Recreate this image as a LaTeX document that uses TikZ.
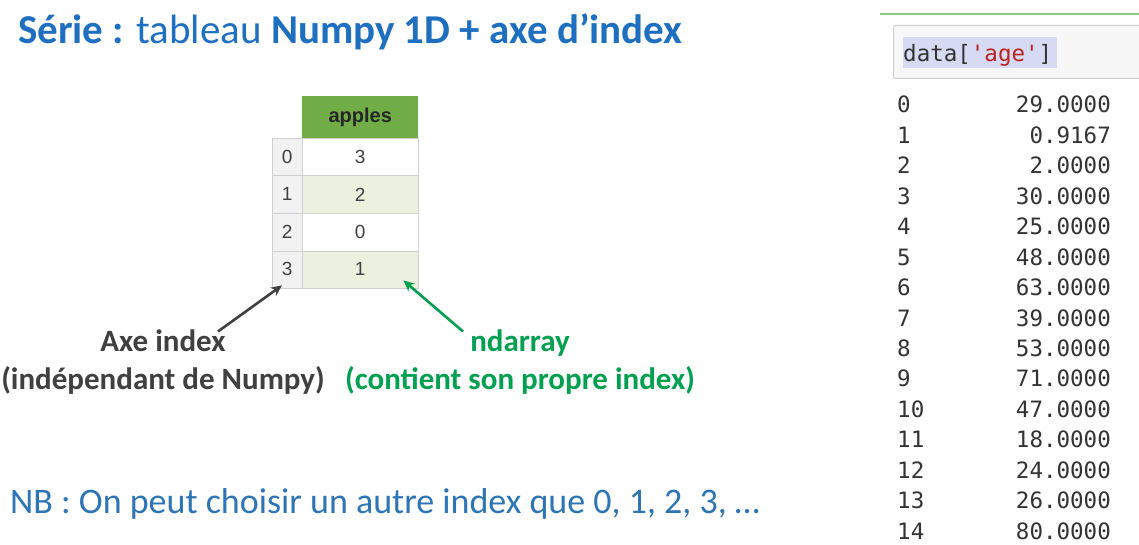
\documentclass[tikz,border=0pt]{standalone}
\usepackage{fontspec}
\setmainfont{Carlito}
\newfontfamily\tabfont{Liberation Sans}
\newfontfamily\codefont{DejaVu Sans Mono}
\usetikzlibrary{arrows.meta}

\definecolor{titleblue}{HTML}{1F6FC0}
\definecolor{nbblue}{HTML}{2E75B6}
\definecolor{darkgray}{HTML}{404040}
\definecolor{ndgreen}{HTML}{00A050}
\definecolor{headgreen}{HTML}{70AD47}
\definecolor{rowgreen}{HTML}{EBF1DE}
\definecolor{idxgray}{HTML}{F2F2F2}
\definecolor{gridgray}{HTML}{D0D0D0}
\definecolor{cellbg}{HTML}{F7F7F7}
\definecolor{cellborder}{HTML}{CFCFCF}
\definecolor{selblue}{HTML}{D6DAF2}
\definecolor{strred}{HTML}{BA2121}
\definecolor{linegreen}{HTML}{8CC98C}
\definecolor{codeink}{HTML}{333333}

\begin{document}
\begin{tikzpicture}[x=1pt,y=-1pt,
  idxcell/.style={draw=gridgray,fill=idxgray,minimum width=30pt,minimum height=37.5pt,
    inner sep=0pt,font=\tabfont\fontsize{19}{19}\selectfont,text=darkgray,anchor=north west},
  valcell/.style={draw=gridgray,minimum width=116pt,minimum height=37.5pt,
    inner sep=0pt,font=\tabfont\fontsize{19}{19}\selectfont,text=darkgray,anchor=north west},
  headcell/.style={fill=headgreen,minimum width=116pt,minimum height=42pt,inner sep=0pt,
    font=\tabfont\bfseries\fontsize{20}{20}\selectfont,text=black!85,anchor=north west},
  lbl/.style={font=\bfseries\fontsize{31}{38}\selectfont,align=center,inner sep=0pt},
  arr/.style={line width=2.6pt,-{Stealth[length=11pt,width=10pt]}},
  outidx/.style={font=\codefont\fontsize{22.5}{22.5}\selectfont,text=codeink,anchor=base west,inner sep=0pt},
  outval/.style={font=\codefont\fontsize{22.5}{22.5}\selectfont,text=codeink,anchor=base east,inner sep=0pt}]
\useasboundingbox[fill=white] (0,0) rectangle (1139,545);

% title
\node[anchor=base west,inner sep=0pt,text=titleblue,font=\fontsize{41}{46}\selectfont] (title) at (18,44)
  {\textbf{Série :} tableau \textbf{Numpy 1D + axe d’index}};

% pandas table
\node[headcell] (head) at (302,96) {apples};
\foreach \i/\v/\f in {0/3/white,1/2/rowgreen,2/0/white,3/1/rowgreen}{
  \node[idxcell] (i\i) at (272,138+37.5*\i) {\i};
  \node[valcell,fill=\f] (v\i) at (302,138+37.5*\i) {\v};
}

% labels
\node[lbl,text=darkgray] (axe) at (163,362) {Axe index\\(indépendant de Numpy)};
\node[lbl,text=ndgreen] (nd) at (520,362) {ndarray\\(contient son propre index)};
\draw[arr,darkgray] ([xshift=55pt,yshift=-2pt]axe.north) -- ([xshift=10pt,yshift=3pt]i3.south west);
\draw[arr,ndgreen] ([xshift=-57pt,yshift=-2pt]nd.north) -- ([xshift=-15pt,yshift=8pt]v3.south east);

% note
\node[anchor=base west,inner sep=0pt,text=nbblue,font=\fontsize{36}{40}\selectfont] (nb) at (10,513)
  {NB : On peut choisir un autre index que 0, 1, 2, 3, …};

% notebook cell
\draw[linegreen,line width=1.5pt] (880,14) -- (1139,14);
\node[draw=cellborder,fill=cellbg,rounded corners=2pt,line width=1pt,anchor=north west,
  minimum width=260pt,minimum height=53pt,inner sep=0pt] (cell) at (893,25) {};
\node[fill=selblue,anchor=north west,minimum width=154pt,minimum height=31pt,inner sep=0pt] (sel) at (903,37) {};
\node[anchor=base west,inner sep=0pt,font=\codefont\fontsize{22.5}{22.5}\selectfont,text=codeink] (code) at (903,62)
  {data[\textcolor{strred}{'age'}]};

% output values
\foreach \k/\val in {0/29.0000,1/0.9167,2/2.0000,3/30.0000,4/25.0000,5/48.0000,6/63.0000,
  7/39.0000,8/53.0000,9/71.0000,10/47.0000,11/18.0000,12/24.0000,13/26.0000,14/80.0000}{
  \node[outidx] (k\k) at (897,113+30.43*\k) {\k};
  \node[outval] (o\k) at (1111,113+30.43*\k) {\val};
}
\end{tikzpicture}
\end{document}
